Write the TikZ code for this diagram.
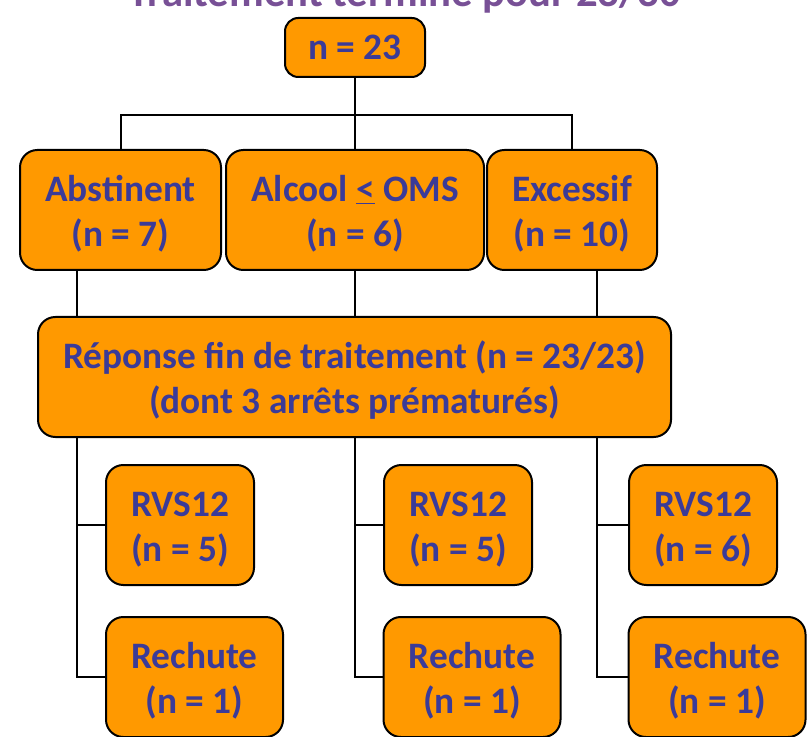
\documentclass[tikz,border=0pt]{standalone}
\usepackage{fontspec}
\setmainfont{Carlito}
\definecolor{boxorange}{HTML}{FF9900}
\definecolor{txtblue}{HTML}{3B3B98}
\definecolor{ttlpurple}{RGB}{120,80,150}
\newcommand{\tpstrut}{\rule{0pt}{25pt}}
\begin{document}
\begin{tikzpicture}[x=0.75pt,y=-0.75pt,
  box/.style={draw=black,line width=1.5pt,fill=boxorange,rounded corners=13pt,
    inner sep=0pt,font=\fontsize{28}{34}\selectfont\bfseries,text=txtblue,align=center},
  conn/.style={draw=black,line width=1.5pt}]
\clip (0,0) rectangle (809,737);
\node[anchor=base,font=\fontsize{32}{38}\selectfont\bfseries,text=ttlpurple] (title) at (405,7) {Traitement terminé pour 23/30};
% nodes
\node[box,minimum width=105pt,minimum height=44.25pt,rounded corners=10pt] (top) at (355,47.5) {n = 23};
\node[box,minimum width=150.75pt,minimum height=90pt] (abst) at (120.5,210) {\tpstrut Abstinent\\(n = 7)};
\node[box,minimum width=193.5pt,minimum height=90pt] (alc) at (355,210) {\tpstrut Alcool \underline{<} OMS\\(n = 6)};
\node[box,minimum width=127.5pt,minimum height=90pt] (exc) at (572,210) {\tpstrut Excessif\\(n = 10)};
\node[box,minimum width=474.75pt,minimum height=90pt] (rep) at (354.5,377) {\tpstrut Réponse fin de traitement (n = 23/23)\\(dont 3 arrêts prématurés)};
\node[box,minimum width=111pt,minimum height=90pt] (rvsA) at (180,525) {\tpstrut RVS12\\(n = 5)};
\node[box,minimum width=132.75pt,minimum height=90pt] (recA) at (194.5,677) {\tpstrut Rechute\\(n = 1)};
\node[box,minimum width=111pt,minimum height=90pt] (rvsB) at (458,525) {\tpstrut RVS12\\(n = 5)};
\node[box,minimum width=132.75pt,minimum height=90pt] (recB) at (472,677) {\tpstrut Rechute\\(n = 1)};
\node[box,minimum width=111pt,minimum height=90pt] (rvsC) at (703,525) {\tpstrut RVS12\\(n = 6)};
\node[box,minimum width=132.75pt,minimum height=90pt] (recC) at (717,677) {\tpstrut Rechute\\(n = 1)};
% helper coordinates
\coordinate (j) at (355,115);
\coordinate (xa) at (77,0);
\coordinate (xb) at (355,0);
\coordinate (xc) at (597,0);
% connectors
\draw[conn] (top.south) -- (alc.north);
\draw[conn] (abst.north) -- (abst.north |- j) -- (exc.north |- j) -- (exc.north);
\draw[conn] (abst.south -| xa) -- (rep.north -| xa);
\draw[conn] (alc.south -| xb) -- (rep.north -| xb);
\draw[conn] (exc.south -| xc) -- (rep.north -| xc);
\draw[conn] (rep.south -| xa) |- (recA.west);
\draw[conn] (rvsA.west -| xa) -- (rvsA.west);
\draw[conn] (rep.south -| xb) |- (recB.west);
\draw[conn] (rvsB.west -| xb) -- (rvsB.west);
\draw[conn] (rep.south -| xc) |- (recC.west);
\draw[conn] (rvsC.west -| xc) -- (rvsC.west);
\end{tikzpicture}
\end{document}
